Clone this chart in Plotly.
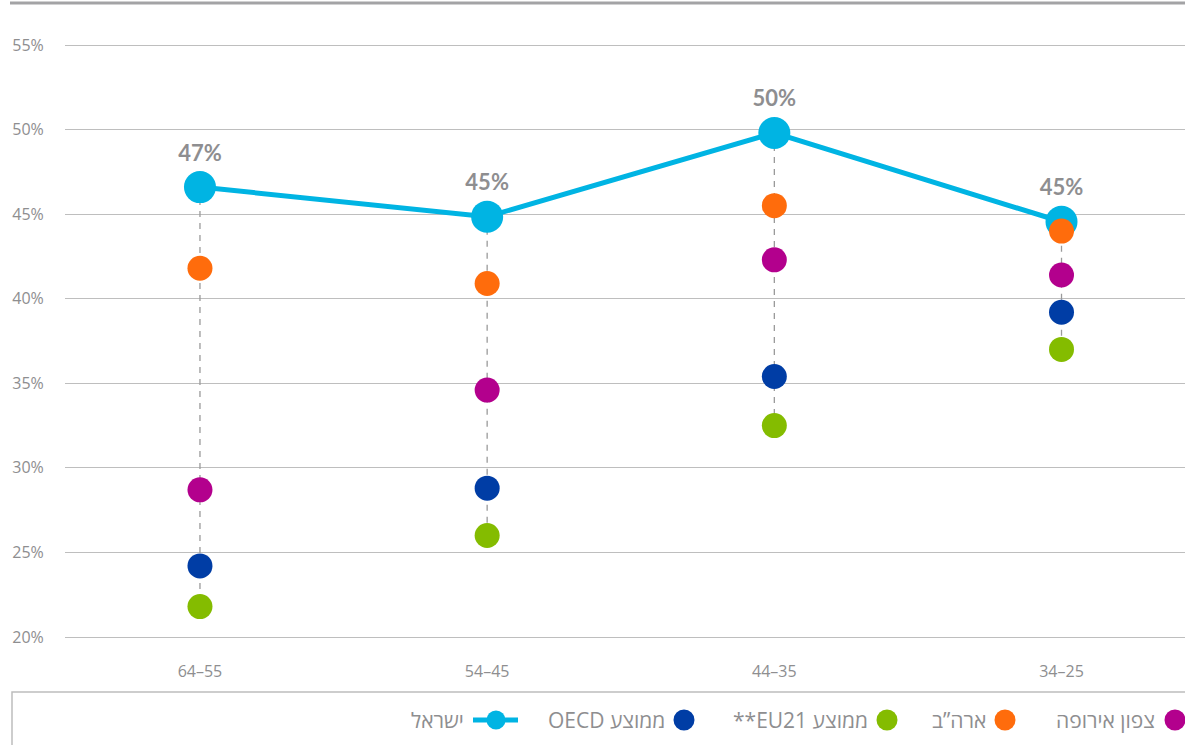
import plotly.graph_objects as go

# ---------------- data ----------------
categories = ["64–55", "54–45", "44–35", "34–25"]
israel = [46.6, 44.85, 49.8, 44.55]
usa = [41.8, 40.9, 45.5, 44.0]
north_europe = [28.7, 34.6, 42.3, 41.4]
oecd_avg = [24.2, 28.8, 35.4, 39.2]
eu21_avg = [21.8, 26.0, 32.5, 37.0]

y_ticks = [20, 25, 30, 35, 40, 45, 50, 55]

names = {
    "israel": "ישראל",
    "oecd": "OECD ממוצע",
    "eu21": "**EU21 ממוצע",
    "usa": "ארה”ב",
    "ne": "צפון אירופה",
}

colors = {
    "israel": "#00B4E3",
    "usa": "#FF6C0C",
    "ne": "#B3008D",
    "oecd": "#003DA5",
    "eu21": "#84BC00",
}

W, H = 1185, 745
GREY_TXT = "#8E8E90"
GRID = "#BEBEBE"
TICK_FONT = "Open Sans, Lato, sans-serif"
HEB_FONT = "Open Sans, Liberation Sans, sans-serif"

fig = go.Figure()

# dashed connectors from highest to lowest value per category
all_series = [israel, usa, north_europe, oecd_avg, eu21_avg]
for i, cat in enumerate(categories):
    vals = [s[i] for s in all_series]
    fig.add_trace(go.Scatter(
        x=[i, i], y=[max(vals), min(vals)], mode="lines",
        line=dict(color="#9A9A9A", width=1.3, dash="6px,6px"),
        hoverinfo="skip", showlegend=False))

xs = list(range(len(categories)))

fig.add_trace(go.Scatter(
    x=xs, y=israel, mode="lines+markers+text", name=names["israel"],
    line=dict(color=colors["israel"], width=5),
    marker=dict(size=32, color=colors["israel"]),
    texttemplate="%{y:.0f}%", textposition="top center",
    textfont=dict(family="Lato, Open Sans, sans-serif", size=22, color=GREY_TXT, weight="bold"),
    cliponaxis=False, showlegend=False))

for key, series in [("eu21", eu21_avg), ("oecd", oecd_avg), ("ne", north_europe), ("usa", usa)]:
    fig.add_trace(go.Scatter(
        x=xs, y=series, mode="markers", name=names[key],
        marker=dict(size=25, color=colors[key]),
        cliponaxis=False, showlegend=False))

# ---------------- layout ----------------
y0_px, y1_px = 637, 45  # pixel rows of 20% and 55%
ppu = (y0_px - y1_px) / (55 - 20)
rng = [19, 57]
bot_px = y0_px + (20 - rng[0]) * ppu
top_px = y1_px - (rng[1] - 55) * ppu

fig.update_layout(
    width=W, height=H,
    margin=dict(l=0, r=0, t=0, b=0),
    paper_bgcolor="white", plot_bgcolor="white",
    showlegend=False,
    xaxis=dict(
        domain=[65 / W, 1], range=[-0.47, 3.43],
        tickmode="array", tickvals=xs, ticktext=categories,
        showgrid=False, zeroline=False, showline=False, automargin=False,
        tickfont=dict(family=TICK_FONT, size=16, color=GREY_TXT),
        ticks="outside", ticklen=3, tickcolor="white",
    ),
    yaxis=dict(
        domain=[(H - bot_px) / H, (H - top_px) / H], range=rng,
        tickmode="array", tickvals=y_ticks, ticktext=[f"{v}%" for v in y_ticks],
        showgrid=True, gridcolor=GRID, gridwidth=1.3,
        zeroline=False, showline=False, automargin=False,
        tickfont=dict(family=TICK_FONT, size=16, color=GREY_TXT),
        ticks="outside", ticklen=17, tickcolor="white",
    ),
)


def px(x):
    return x / W


def py(y):
    return (H - y) / H


# top rule
fig.add_shape(type="line", xref="paper", yref="paper",
              x0=px(10), x1=1, y0=py(3), y1=py(3),
              line=dict(color="#A3A3A5", width=3))

# legend box
fig.add_shape(type="rect", xref="paper", yref="paper",
              x0=px(12), x1=1.02, y0=-0.05, y1=py(692),
              line=dict(color="#BDBDBD", width=1.5), layer="below")

# custom legend (RTL: symbol to the right of the text)
leg_y = 720
legend_items = [
    ("ne", 1175, 1157),
    ("usa", 1005, 988),
    ("eu21", 887, 870),
    ("oecd", 684, 667),
]
for key, cx, tx in legend_items:
    r = 10.5
    fig.add_shape(type="circle", xref="paper", yref="paper",
                  x0=px(cx - r), x1=px(cx + r), y0=py(leg_y + r), y1=py(leg_y - r),
                  fillcolor=colors[key], line=dict(width=0))
    fig.add_annotation(xref="paper", yref="paper", x=px(tx), y=py(leg_y),
                       text=names[key], showarrow=False, xanchor="right", yanchor="middle",
                       font=dict(family=HEB_FONT, size=21, color=GREY_TXT))

# Israel legend entry: line + marker
fig.add_shape(type="line", xref="paper", yref="paper",
              x0=px(473), x1=px(518), y0=py(leg_y), y1=py(leg_y),
              line=dict(color=colors["israel"], width=5))
fig.add_shape(type="circle", xref="paper", yref="paper",
              x0=px(496 - 9.5), x1=px(496 + 9.5), y0=py(leg_y + 9.5), y1=py(leg_y - 9.5),
              fillcolor=colors["israel"], line=dict(width=0))
fig.add_annotation(xref="paper", yref="paper", x=px(466), y=py(leg_y),
                   text=names["israel"], showarrow=False, xanchor="right", yanchor="middle",
                   font=dict(family=HEB_FONT, size=21, color=GREY_TXT))

fig.write_html("out.html", config={"displayModeBar": False},
               post_script="document.body.style.margin='0';document.body.style.overflow='hidden';")
